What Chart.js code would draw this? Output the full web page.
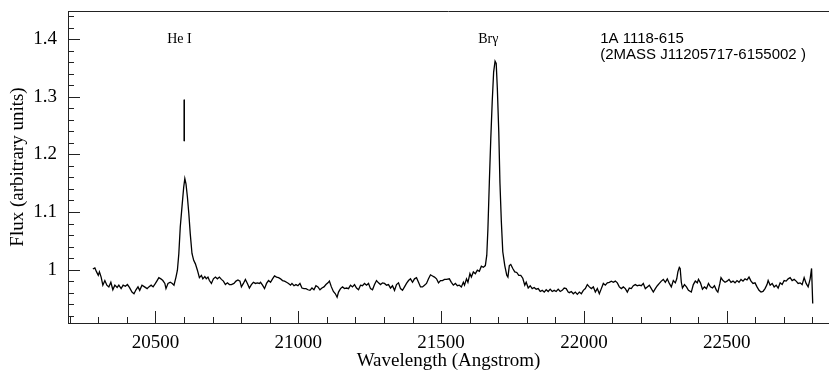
<!DOCTYPE html>
<html>
<head>
<meta charset="utf-8">
<script src="https://cdn.jsdelivr.net/npm/chart.js@4/dist/chart.umd.min.js"></script>
<style>
html, body { margin: 0; padding: 0; background: #fff; }
</style>
</head>
<body>
<canvas id="specChart" width="829" height="371"></canvas>
<script>
// Spectrum (Angstrom / arbitrary flux)
const wavelength = [
  20281,20288,20294,20300,20304,20310,20316,20323,20330,20337,20344,20351,20358,20366,20372,20380,20387,20395,20402,20409,
  20418,20425,20432,20439,20445,20453,20462,20471,20477,20485,20492,20500,20506,20512,20519,20526,20533,20537,20544,20552,
  20559,20565,20572,20577,20582,20587,20593,20599,20603,20607,20612,20617,20622,20628,20634,20640,20647,20654,20661,20666,
  20673,20678,20684,20689,
  20696,20703,20710,20717,20724,20731,20738,20745,20752,20759,20766,20775,20782,20789,20796,20801,20808,20815,20822,20829,
  20836,20843,20850,20857,20864,20868,20875,20882,20889,20896,20903,20910,20917,20924,20931,20938,20945,20952,20959,20966,
  20973,20978,20985,20992,20999,21006,21013,21020,21027,21034,21041,21048,21055,21062,21069,21076,21083,21090,21097,21104,
  21109,
  21116,21123,21130,21136,21141,21148,21155,21162,21169,21176,21183,21190,21197,21204,21211,21218,21225,21232,21239,21246,
  21253,21260,21267,21274,21281,21288,21295,21302,21309,21316,21323,21330,21337,21344,21351,21358,21365,21372,21379,21386,
  21393,21400,21407,21414,21421,21428,21435,21442,21449,21456,21463,21470,21477,21484,21491,21498,21505,21512,21519,21529,
  21536,21543,21550,21557,21564,21571,21578,21582,21589,21594,21601,21606,21613,21620,21627,21634,21641,21648,21655,21660,
  21664,21669,21674,21679,21684,21689,21693,21697,21702,21706,21711,21716,21723,21730,21734,21739,21744,21751,21758,21765,
  21772,21779,21786,21793,21798,21805,21812,21819,21826,21833,21840,21847,21854,21861,21868,21875,21882,21889,21896,21903,
  21910,21917,21924,21931,21938,21945,
  21949,21956,21963,21970,21977,21984,21991,21998,22005,22012,22019,22026,22033,22040,22047,22054,22061,22068,22075,22082,
  22089,22096,22103,22110,22117,22124,22131,22138,22145,22152,22159,22166,22173,22180,22187,22194,22201,22208,22215,22222,
  22229,22236,22243,22250,22257,22264,22271,22278,22285,22292,22299,22306,22313,22320,22325,22329,22334,22337,22341,22345,
  22352,22359,22366,
  22376,22383,22390,22397,22401,22408,22415,22422,22429,22436,22443,22450,22457,22464,22469,22476,22480,22487,22494,22501,
  22508,22515,22522,22529,22536,22543,22550,22557,22564,22571,22578,22585,22592,22599,22606,22613,22620,22627,22634,22641,
  22645,22652,22659,22666,22673,22680,22687,22694,22701,22708,22715,22722,22729,22736,22743,22750,22757,22764,22771,22778,
  22785,22792,22797,22801
];
const flux = [
  1.001,1.003,0.996,0.990,0.996,0.987,0.973,0.981,0.973,0.970,0.978,0.965,0.973,0.969,0.973,0.967,0.973,0.971,0.974,0.969,
  0.961,0.958,0.965,0.970,0.964,0.973,0.970,0.967,0.970,0.973,0.970,0.976,0.981,0.986,0.984,0.981,0.976,0.967,0.976,0.978,
  0.976,0.973,0.987,0.999,1.028,1.074,1.109,1.143,1.158,1.149,1.126,1.097,1.062,1.028,1.016,1.010,0.999,0.986,0.990,0.984,
  0.988,0.984,0.987,0.981,
  0.976,0.984,0.987,0.984,0.987,0.983,0.980,0.974,0.977,0.974,0.974,0.976,0.980,0.982,0.980,0.970,0.976,0.983,0.976,0.968,
  0.974,0.978,0.976,0.977,0.976,0.978,0.973,0.967,0.976,0.981,0.978,0.984,0.989,0.987,0.986,0.984,0.981,0.980,0.978,0.976,
  0.973,0.976,0.972,0.974,0.972,0.976,0.968,0.967,0.967,0.965,0.964,0.968,0.965,0.972,0.970,0.965,0.968,0.970,0.974,0.977,
  0.980,
  0.970,0.962,0.958,0.952,0.961,0.967,0.970,0.967,0.968,0.967,0.973,0.970,0.974,0.968,0.965,0.973,0.972,0.976,0.973,0.976,
  0.967,0.965,0.974,0.981,0.977,0.974,0.977,0.976,0.973,0.974,0.968,0.972,0.964,0.974,0.977,0.967,0.964,0.970,0.976,0.981,
  0.984,0.978,0.984,0.986,0.978,0.970,0.970,0.973,0.976,0.984,0.991,0.989,0.987,0.984,0.977,0.981,0.981,0.983,0.983,0.984,
  0.978,0.973,0.976,0.972,0.973,0.970,0.978,0.973,0.984,0.978,0.993,0.987,0.996,0.993,0.999,0.997,1.006,1.004,1.007,1.025,
  1.071,1.152,1.227,1.291,1.343,1.362,1.358,1.314,1.239,1.152,1.083,1.031,1.007,0.990,0.987,1.007,1.009,1.002,0.996,0.995,
  0.990,0.990,0.985,0.973,0.978,0.968,0.972,0.967,0.969,0.966,0.967,0.962,0.964,0.961,0.965,0.962,0.966,0.962,0.964,0.962,
  0.966,0.962,0.964,0.968,0.967,0.961,
  0.960,0.962,0.958,0.961,0.957,0.961,0.958,0.964,0.967,0.974,0.970,0.967,0.970,0.961,0.967,0.958,0.967,0.976,0.973,0.977,
  0.978,0.980,0.978,0.980,0.977,0.970,0.967,0.970,0.967,0.961,0.968,0.967,0.972,0.974,0.972,0.973,0.972,0.976,0.967,0.970,
  0.973,0.967,0.961,0.967,0.972,0.976,0.980,0.983,0.978,0.984,0.976,0.970,0.981,0.977,0.984,0.996,1.004,1.002,0.978,0.968,
  0.974,0.970,0.964,
  0.961,0.974,0.980,0.977,0.983,0.977,0.966,0.970,0.967,0.976,0.970,0.968,0.972,0.964,0.961,0.976,0.986,0.981,0.978,0.980,
  0.983,0.978,0.980,0.977,0.981,0.978,0.983,0.980,0.984,0.982,0.987,0.980,0.976,0.977,0.970,0.964,0.961,0.962,0.967,0.974,
  0.981,0.973,0.976,0.970,0.973,0.968,0.977,0.974,0.981,0.980,0.984,0.986,0.981,0.983,0.980,0.976,0.977,0.974,0.986,0.976,
  0.970,0.984,1.002,0.941
];

// He I marker line
const heMarkerWave = [20601, 20601];
const heMarkerFlux = [1.295, 1.223];

// Tick labels
const xTickLabels = [20500, 21000, 21500, 22000, 22500];
const yTickLabels = [1, 1.1, 1.2, 1.3, 1.4];

const serif = "'Liberation Serif', 'Times New Roman', serif";
const sans = "'Liberation Sans', Arial, sans-serif";

// inward ticks, top frame line and the text labels
const framePlugin = {
    id: 'frame',
    afterDraw(chart) {
        const ctx = chart.ctx;
        const area = chart.chartArea;
        const xs = chart.scales.x;
        const ys = chart.scales.y;
        ctx.save();
        ctx.strokeStyle = '#222';
        ctx.lineWidth = 1;
        ctx.beginPath();
        ctx.moveTo(area.left, area.top + 0.5);
        ctx.lineTo(area.right, area.top + 0.5);

        for (let v = 20200; v <= 22800; v += 100) {
            const px = Math.round(xs.getPixelForValue(v)) + 0.5;
            const len = (v % 500 === 0) ? 12 : 6;
            ctx.moveTo(px, area.bottom);
            ctx.lineTo(px, area.bottom - len);
        }
        for (let i = 46; i <= 72; i++) {
            const v = i * 0.02;
            const py = Math.round(ys.getPixelForValue(v)) + 0.5;
            const len = (i % 5 === 0) ? 12 : 6;
            ctx.moveTo(area.left, py);
            ctx.lineTo(area.left + len, py);
        }
        ctx.stroke();

        ctx.fillStyle = '#000';
        ctx.textBaseline = 'alphabetic';
        ctx.font = '14px ' + serif;
        ctx.textAlign = 'center';
        ctx.fillText('He I', xs.getPixelForValue(20584), ys.getPixelForValue(1.394));
        ctx.textAlign = 'left';
        ctx.fillText('Br\u03b3', xs.getPixelForValue(21630), ys.getPixelForValue(1.394));
        ctx.font = '15px ' + sans;
        ctx.fillText('1A 1118-615', xs.getPixelForValue(22057), ys.getPixelForValue(1.394));
        ctx.fillText('(2MASS J11205717-6155002 )', xs.getPixelForValue(22057), ys.getPixelForValue(1.366));
        ctx.restore();
    }
};

new Chart(document.getElementById('specChart'), {
    type: 'line',
    data: {
        datasets: [{
            data: wavelength.map((w, i) => ({ x: w, y: flux[i] })),
            borderColor: '#000',
            borderWidth: 1.3,
            pointRadius: 0,
            tension: 0,
            fill: false
        }, {
            data: heMarkerWave.map((w, i) => ({ x: w, y: heMarkerFlux[i] })),
            borderColor: '#000',
            borderWidth: 1,
            pointRadius: 0
        }]
    },
    options: {
        responsive: false,
        animation: false,
        layout: { padding: { top: 11, right: 0, bottom: 0, left: 0 } },
        plugins: {
            legend: { display: false },
            tooltip: { enabled: false }
        },
        scales: {
            x: {
                type: 'linear',
                min: 20194,
                max: 22858,
                afterFit: s => { s.height = 48; s.paddingLeft = 0; s.paddingRight = 0; },
                afterBuildTicks: s => { s.ticks = xTickLabels.map(v => ({ value: v })); },
                grid: { drawOnChartArea: false, drawTicks: false },
                border: { color: '#222', width: 1 },
                ticks: {
                    autoSkip: false,
                    maxRotation: 0,
                    padding: 9,
                    color: '#000',
                    font: { family: serif, size: 19 },
                    callback: v => String(v)
                },
                title: {
                    display: true,
                    text: 'Wavelength (Angstrom)',
                    color: '#000',
                    font: { family: serif, size: 19, lineHeight: 1 },
                    padding: { top: 0, bottom: 0 }
                }
            },
            y: {
                min: 0.9073,
                max: 1.449,
                afterFit: s => { s.width = 68; s.paddingTop = 0; s.paddingBottom = 0; },
                afterBuildTicks: s => { s.ticks = yTickLabels.map(v => ({ value: v })); },
                grid: { drawOnChartArea: false, drawTicks: false },
                border: { color: '#222', width: 1 },
                ticks: {
                    padding: 11,
                    color: '#000',
                    font: { family: serif, size: 19 },
                    callback: v => String(v)
                },
                title: {
                    display: true,
                    text: 'Flux (arbitrary units)',
                    color: '#000',
                    font: { family: serif, size: 19, lineHeight: 1 },
                    padding: { top: 9, bottom: 0 }
                }
            }
        }
    },
    plugins: [framePlugin]
});
</script>
</body>
</html>
